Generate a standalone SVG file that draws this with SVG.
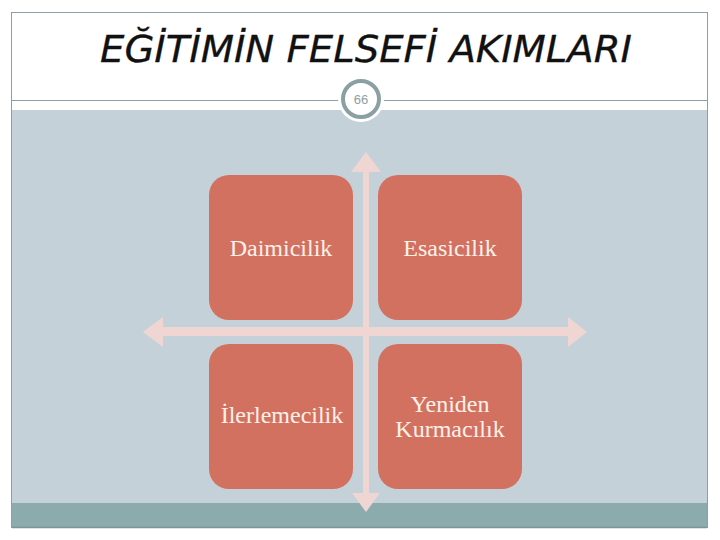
<svg xmlns="http://www.w3.org/2000/svg" width="720" height="540" viewBox="0 0 720 540">
<style>
.box{fill:#D37160;}
.lbl{font-family:"Liberation Serif","DejaVu Serif",serif;font-size:24px;fill:#FBF1EA;text-anchor:middle;}
.arrow{fill:#EFD6D3;}
</style>
<rect x="0" y="0" width="720" height="540" fill="#ffffff"/>
<rect x="11.5" y="12.5" width="696" height="515" fill="#ffffff" stroke="#8E9EA3" stroke-width="1"/>
<rect x="12" y="110" width="695" height="393" fill="#C5D1D8"/>
<rect x="12" y="503" width="695" height="24" fill="#8BABAD"/>
<line x1="12" y1="527.5" x2="707" y2="527.5" stroke="#7E9597" stroke-width="1.5"/>
<line x1="12" y1="100.5" x2="707" y2="100.5" stroke="#8E9EA3" stroke-width="1"/>
<text x="366" y="62" font-family="'DejaVu Sans','Noto Sans',sans-serif" font-style="italic" font-size="37" fill="#111111" stroke="#111111" stroke-width="0.3" text-anchor="middle" textLength="532" lengthAdjust="spacingAndGlyphs">EĞİTİMİN FELSEFİ AKIMLARI</text>
<g id="pagenum">
<circle cx="361" cy="99" r="23" fill="#ffffff"/>
<circle cx="361" cy="99" r="18" fill="#ffffff" stroke="#8BA0A3" stroke-width="4"/>
<text x="361" y="104" font-family="'Liberation Sans',sans-serif" font-size="13" fill="#8E9EA3" text-anchor="middle">66</text>
</g>
<g id="connectors">
<polygon class="arrow" points="366,152 381,172 369,172 369,493 380,493 366,512 352,493 363,493 363,172 351,172"/>
<polygon class="arrow" points="143,332 163,317 163,327 568,327 568,317 587,332 568,347 568,336 163,336 163,347"/>
</g>
<g id="n1"><rect class="box" x="209" y="175" width="144" height="145" rx="20"/><text class="lbl" x="281" y="256">Daimicilik</text></g>
<g id="n2"><rect class="box" x="378" y="175" width="144" height="145" rx="20"/><text class="lbl" x="450" y="256">Esasicilik</text></g>
<g id="n3"><rect class="box" x="209" y="344" width="144" height="145" rx="20"/><text class="lbl" x="282" y="423" font-size="21">İlerlemecilik</text></g>
<g id="n4"><rect class="box" x="378" y="344" width="144" height="145" rx="20"/><text class="lbl" x="450" y="412">Yeniden</text><text class="lbl" x="450" y="437">Kurmacılık</text></g>
</svg>
